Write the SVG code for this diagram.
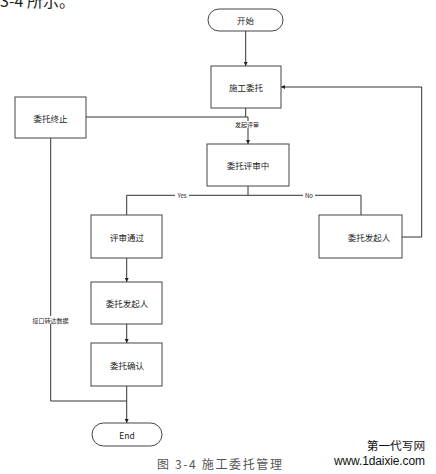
<svg xmlns="http://www.w3.org/2000/svg" width="436" height="474" viewBox="0 0 436 474">
<style>
.box{fill:#fff;stroke:#444;stroke-width:1}
.t{font-family:"Noto Sans CJK SC","Liberation Sans",sans-serif;font-size:8.5px;fill:#222;text-anchor:middle;dominant-baseline:central}
.lbl{font-family:"Noto Sans CJK SC","Liberation Sans",sans-serif;font-size:6px;fill:#222;text-anchor:middle;dominant-baseline:central}
.ln{fill:none;stroke:#333;stroke-width:1}
.arr{fill:none;stroke:#333;stroke-width:1;marker-end:url(#ah)}
</style>
<defs>
<marker id="ah" viewBox="0 0 6 6" refX="6" refY="3" markerWidth="4" markerHeight="4" orient="auto" markerUnits="userSpaceOnUse">
<path d="M0,0 L6,3 L0,6 z" fill="#222"/>
</marker>
</defs>
<rect width="436" height="474" fill="#fff"/>
<text x="0" y="6.5" font-family="'Noto Sans CJK SC',sans-serif" font-size="16" fill="#222">3-4 所示。</text>

<g id="connectors">
<path class="arr" d="M245.7,31 V66"/>
<path class="ln" d="M86,117 H245.7 M245.7,108 V117 H248"/>
<path class="arr" d="M248,117 V144"/>
<rect x="232" y="121" width="30" height="7" fill="#fff"/>
<text class="lbl" x="247" y="124.5">发起评审</text>
<path class="ln" d="M248,186 V195.3 M126.7,215 V195.3 H361 V215"/>
<rect x="175" y="192" width="14" height="7" fill="#fff"/>
<text class="lbl" x="182" y="195.5">Yes</text>
<rect x="303" y="192" width="12" height="7" fill="#fff"/>
<text class="lbl" x="309" y="195.5">No</text>
<path class="arr" d="M402,237 H421.7 V87 H281"/>
<path class="arr" d="M126.7,258 V282"/>
<path class="arr" d="M126.7,324 V343"/>
<path class="ln" d="M50.7,138 V401 H126.7"/>
<rect x="30" y="316" width="41" height="8" fill="#fff"/>
<text class="lbl" x="50.5" y="320">接口转达数据</text>
<path class="arr" d="M126.7,386 V423"/>
</g>

<g id="start"><rect class="box" x="208" y="9" width="75" height="22" rx="11"/><text class="t" x="245.5" y="20">开始</text></g>
<g id="sg"><rect class="box" x="211" y="66" width="70" height="42"/><text class="t" x="246" y="87">施工委托</text></g>
<g id="zz"><rect class="box" x="15" y="97" width="71" height="41"/><text class="t" x="50.5" y="117.5">委托终止</text></g>
<g id="ps"><rect class="box" x="207" y="144" width="82" height="42"/><text class="t" x="248" y="165">委托评审中</text></g>
<g id="tg"><rect class="box" x="91" y="215" width="71" height="43"/><text class="t" x="127" y="237">评审通过</text></g>
<g id="fq2"><rect class="box" x="319" y="215" width="83" height="43"/><text class="t" x="369" y="237">委托发起人</text></g>
<g id="fq1"><rect class="box" x="91" y="282" width="71" height="42"/><text class="t" x="127" y="303">委托发起人</text></g>
<g id="qr"><rect class="box" x="91" y="343" width="71" height="43"/><text class="t" x="127" y="364.5">委托确认</text></g>
<g id="end"><rect class="box" x="92" y="423" width="70" height="23" rx="11.5"/><text class="t" x="127" y="434.5" font-family="'Liberation Sans',sans-serif">End</text></g>

<text x="157" y="469" font-family="'Noto Sans CJK SC',sans-serif" font-size="12" fill="#555" textLength="125">图 3-4 施工委托管理</text>
<text x="366.7" y="450" font-family="'Noto Sans CJK SC',sans-serif" font-size="11.7" fill="#111" textLength="58.5">第一代写网</text>
<text x="334" y="464.5" font-family="'Liberation Sans',sans-serif" font-size="12" fill="#111" textLength="91">www.1daixie.com</text>
</svg>
